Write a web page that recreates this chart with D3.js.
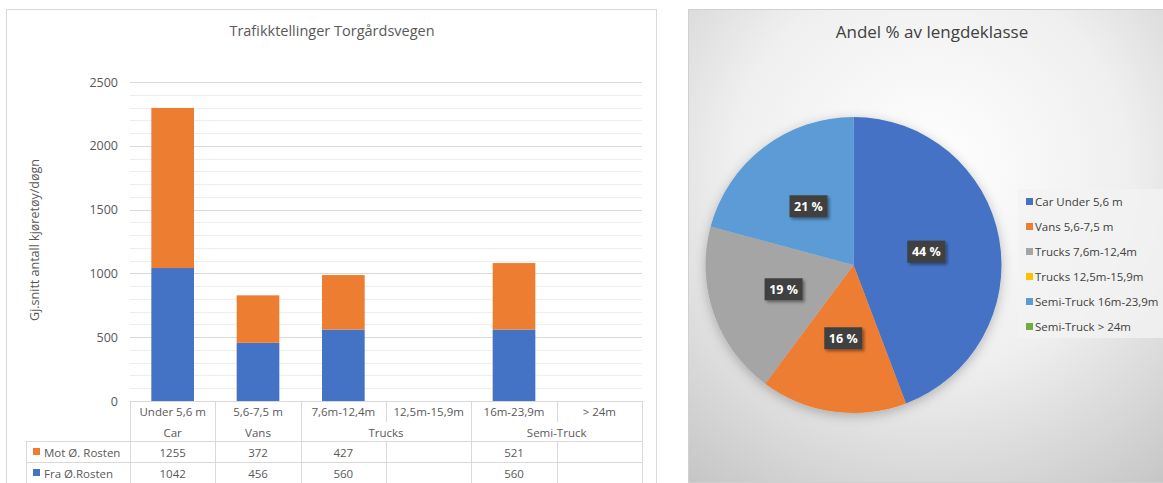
<!DOCTYPE html>
<html>
<head>
<meta charset="utf-8">
<script src="https://cdn.jsdelivr.net/npm/d3@7"></script>
<style>
  body { margin: 0; background: #fff; }
  svg { display: block; font-family: "Open Sans", "Liberation Sans", sans-serif; }
</style>
</head>
<body>
<script>
// chart values
const lengthClasses = ["Under 5,6 m", "5,6-7,5 m", "7,6m-12,4m", "12,5m-15,9m", "16m-23,9m", "> 24m"];
const vehicleGroups = ["Car", "Vans", "Trucks", "Trucks", "Semi-Truck", "Semi-Truck"];
const motRosten = [1255, 372, 427, null, 521, null];
const fraRosten = [1042, 456, 560, null, 560, null];
const seriesNames = ["Mot Ø. Rosten", "Fra Ø.Rosten"];
const yTicks = [0, 500, 1000, 1500, 2000, 2500];
const pieLabels = ["Car Under 5,6 m", "Vans 5,6-7,5 m", "Trucks 7,6m-12,4m", "Trucks 12,5m-15,9m", "Semi-Truck 16m-23,9m", "Semi-Truck > 24m"];

const W = 1163, H = 483;
const textCol = "#595959", gridCol = "#d9d9d9";

let svg = d3.select("body").append("svg")
    .attr("width", W)
    .attr("height", H);

// ---------- left panel: stacked bars + data table ----------
svg.append("rect")
    .attr("x", 6.5).attr("y", 9.5)
    .attr("width", 650).attr("height", 490)
    .attr("fill", "#fff").attr("stroke", "#d9d9d9");

svg.append("text")
    .attr("x", 332).attr("y", 36)
    .attr("text-anchor", "middle")
    .attr("font-size", 14.5)
    .attr("fill", textCol)
    .text("Trafikktellinger Torgårdsvegen");

let x = d3.scaleBand()
    .domain(lengthClasses)
    .range([130, 642])
    .paddingInner(0.5)
    .paddingOuter(0.25);

let step = x.step();
let colLeft = (i) => 130 + i * step;

let y = d3.scaleLinear()
    .domain([0, 2500])
    .range([401, 82]);

// gridlines, minor every 100
let minor = d3.range(100, 2501, 100);
svg.append("g").selectAll("line")
    .data(minor)
    .enter().append("line")
    .attr("x1", 130).attr("x2", 642)
    .attr("y1", d => Math.round(y(d)) + 0.5)
    .attr("y2", d => Math.round(y(d)) + 0.5)
    .attr("stroke", d => d % 500 === 0 ? gridCol : "#eeeeee");

// y axis
let yAxis = svg.append("g")
    .attr("transform", "translate(130,0)")
    .call(d3.axisLeft(y).tickValues(yTicks).tickFormat(d3.format("d")).tickSize(0).tickPadding(12));
yAxis.select(".domain").remove();
yAxis.selectAll("text")
    .attr("font-size", 12.5)
    .attr("font-family", "'Open Sans', sans-serif")
    .attr("fill", textCol);

svg.append("text")
    .attr("transform", "translate(39,240) rotate(-90)")
    .attr("text-anchor", "middle")
    .attr("font-size", 12.5)
    .attr("fill", textCol)
    .text("Gj.snitt antall kjøretøy/døgn");

// stacked bars
let rows = lengthClasses.map((c, i) => ({ cls: c, fra: fraRosten[i] || 0, mot: motRosten[i] || 0 }));
let stack = d3.stack().keys(["fra", "mot"]);
let barColor = { fra: "#4472c4", mot: "#ed7d31" };

svg.append("g").selectAll("g")
    .data(stack(rows))
    .enter().append("g")
    .attr("fill", d => barColor[d.key])
    .selectAll("rect")
    .data(d => d)
    .enter().append("rect")
    .attr("x", d => x(d.data.cls))
    .attr("width", x.bandwidth())
    .attr("y", d => y(d[1]))
    .attr("height", d => y(d[0]) - y(d[1]));

// table
let t = svg.append("g").attr("stroke", gridCol).attr("shape-rendering", "crispEdges");
t.append("line").attr("x1", 130).attr("x2", 642).attr("y1", 401.5).attr("y2", 401.5);
t.append("line").attr("x1", 26).attr("x2", 642).attr("y1", 441.5).attr("y2", 441.5);
t.append("line").attr("x1", 26).attr("x2", 642).attr("y1", 462.5).attr("y2", 462.5);
t.append("line").attr("x1", 26).attr("x2", 26).attr("y1", 441.5).attr("y2", 490);

// vertical lines in the class row and data rows
d3.range(lengthClasses.length + 1).forEach(i => {
    let xx = Math.round(colLeft(i)) + 0.5;
    t.append("line").attr("x1", xx).attr("x2", xx).attr("y1", 401).attr("y2", 422);
    t.append("line").attr("x1", xx).attr("x2", xx).attr("y1", 441).attr("y2", 490);
    // group row: only where the group changes
    if (i === 0 || i === lengthClasses.length || vehicleGroups[i] !== vehicleGroups[i - 1]) {
        t.append("line").attr("x1", xx).attr("x2", xx).attr("y1", 422).attr("y2", 441);
    }
});

svg.append("g").selectAll("text")
    .data(lengthClasses)
    .enter().append("text")
    .attr("x", (d, i) => colLeft(i) + step / 2)
    .attr("y", 416)
    .attr("text-anchor", "middle")
    .attr("font-size", 11.5)
    .attr("fill", textCol)
    .text(d => d);

// group labels spanning their columns
let groupSpans = [];
vehicleGroups.forEach((g, i) => {
    let last = groupSpans[groupSpans.length - 1];
    if (last && last.name === g) last.end = i;
    else groupSpans.push({ name: g, start: i, end: i });
});
svg.append("g").selectAll("text")
    .data(groupSpans)
    .enter().append("text")
    .attr("x", d => (colLeft(d.start) + colLeft(d.end + 1)) / 2)
    .attr("y", 437)
    .attr("text-anchor", "middle")
    .attr("font-size", 11.5)
    .attr("fill", textCol)
    .text(d => d.name);

let tableSeries = [
    { name: seriesNames[0], vals: motRosten, color: "#ed7d31", y: 457 },
    { name: seriesNames[1], vals: fraRosten, color: "#4472c4", y: 478 }
];
tableSeries.forEach(s => {
    svg.append("rect")
        .attr("x", 33).attr("y", s.y - 9)
        .attr("width", 7).attr("height", 7)
        .attr("fill", s.color);
    svg.append("text")
        .attr("x", 44).attr("y", s.y)
        .attr("font-size", 11.5)
        .attr("fill", textCol)
        .text(s.name);
    svg.append("g").selectAll("text")
        .data(s.vals)
        .enter().append("text")
        .attr("x", (d, i) => colLeft(i) + step / 2)
        .attr("y", s.y)
        .attr("text-anchor", "middle")
        .attr("font-size", 11.5)
        .attr("fill", textCol)
        .text(d => d == null ? "" : d);
});

// ---------- right panel: pie ----------
let defs = svg.append("defs");
let grad = defs.append("radialGradient")
    .attr("id", "bg")
    .attr("gradientUnits", "userSpaceOnUse")
    .attr("cx", 930).attr("cy", 170).attr("r", 400);
grad.append("stop").attr("offset", "0%").attr("stop-color", "#ffffff");
grad.append("stop").attr("offset", "50%").attr("stop-color", "#efefef");
grad.append("stop").attr("offset", "100%").attr("stop-color", "#c4c4c4");

let shadow = defs.append("filter").attr("id", "shadow")
    .attr("x", "-30%").attr("y", "-30%").attr("width", "160%").attr("height", "160%");
shadow.append("feDropShadow")
    .attr("dx", 2).attr("dy", 2).attr("stdDeviation", 1.5)
    .attr("flood-color", "#000").attr("flood-opacity", 0.4);

let pieShadow = defs.append("filter").attr("id", "pieShadow")
    .attr("x", "-20%").attr("y", "-20%").attr("width", "140%").attr("height", "140%");
pieShadow.append("feDropShadow")
    .attr("dx", 0).attr("dy", 3).attr("stdDeviation", 6)
    .attr("flood-color", "#000").attr("flood-opacity", 0.25);

svg.append("rect")
    .attr("x", 688.5).attr("y", 9.5)
    .attr("width", 480).attr("height", 473)
    .attr("fill", "url(#bg)").attr("stroke", "#d0d0d0");

svg.append("text")
    .attr("x", 932).attr("y", 38)
    .attr("text-anchor", "middle")
    .attr("font-size", 17)
    .attr("fill", "#404040")
    .text("Andel % av lengdeklasse");

let pieData = lengthClasses.map((c, i) => ({
    label: pieLabels[i],
    count: (fraRosten[i] || 0) + (motRosten[i] || 0)
}));
let total = d3.sum(pieData, d => d.count);

let color = d3.scaleOrdinal()
    .domain(pieLabels)
    .range(["#4472c4", "#ed7d31", "#a5a5a5", "#ffc000", "#5b9bd5", "#70ad47"]);

let radius = 148;
let arc = d3.arc().outerRadius(radius).innerRadius(0);

let pie = d3.pie()
    .sort(null)
    .value(d => d.count);

let pg = svg.append("g")
    .attr("transform", "translate(853.5,265)");

pg.append("g").attr("filter", "url(#pieShadow)")
    .selectAll("path")
    .data(pie(pieData))
    .enter().append("path")
    .attr("d", arc)
    .style("fill", d => color(d.data.label));

let lab = pg.selectAll(".lab")
    .data(pie(pieData).filter(d => d.data.count > 0))
    .enter().append("g")
    .attr("class", "lab")
    .attr("transform", d => "translate(" + arc.centroid(d) + ")");
lab.append("rect")
    .attr("x", -19).attr("y", -11)
    .attr("width", 38).attr("height", 22)
    .attr("fill", "#404040")
    .attr("filter", "url(#shadow)");
lab.append("text")
    .attr("text-anchor", "middle")
    .attr("dy", "0.36em")
    .attr("font-size", 12.5)
    .attr("font-weight", "bold")
    .attr("fill", "#fff")
    .text(d => Math.round(d.data.count / total * 100) + " %");

// legend
let lg = svg.append("g");
lg.append("rect")
    .attr("x", 1018).attr("y", 189)
    .attr("width", 150).attr("height", 149)
    .attr("fill", "#f2f2f2").attr("opacity", 0.8);
let li = lg.selectAll(".li")
    .data(pieLabels)
    .enter().append("g")
    .attr("transform", (d, i) => "translate(1026," + (202 + i * 25) + ")");
li.append("rect")
    .attr("x", 0).attr("y", -4)
    .attr("width", 7).attr("height", 7)
    .attr("fill", d => color(d));
li.append("text")
    .attr("x", 9).attr("dy", "0.36em")
    .attr("font-size", 11.5)
    .attr("fill", "#404040")
    .text(d => d);
</script>
</body>
</html>
